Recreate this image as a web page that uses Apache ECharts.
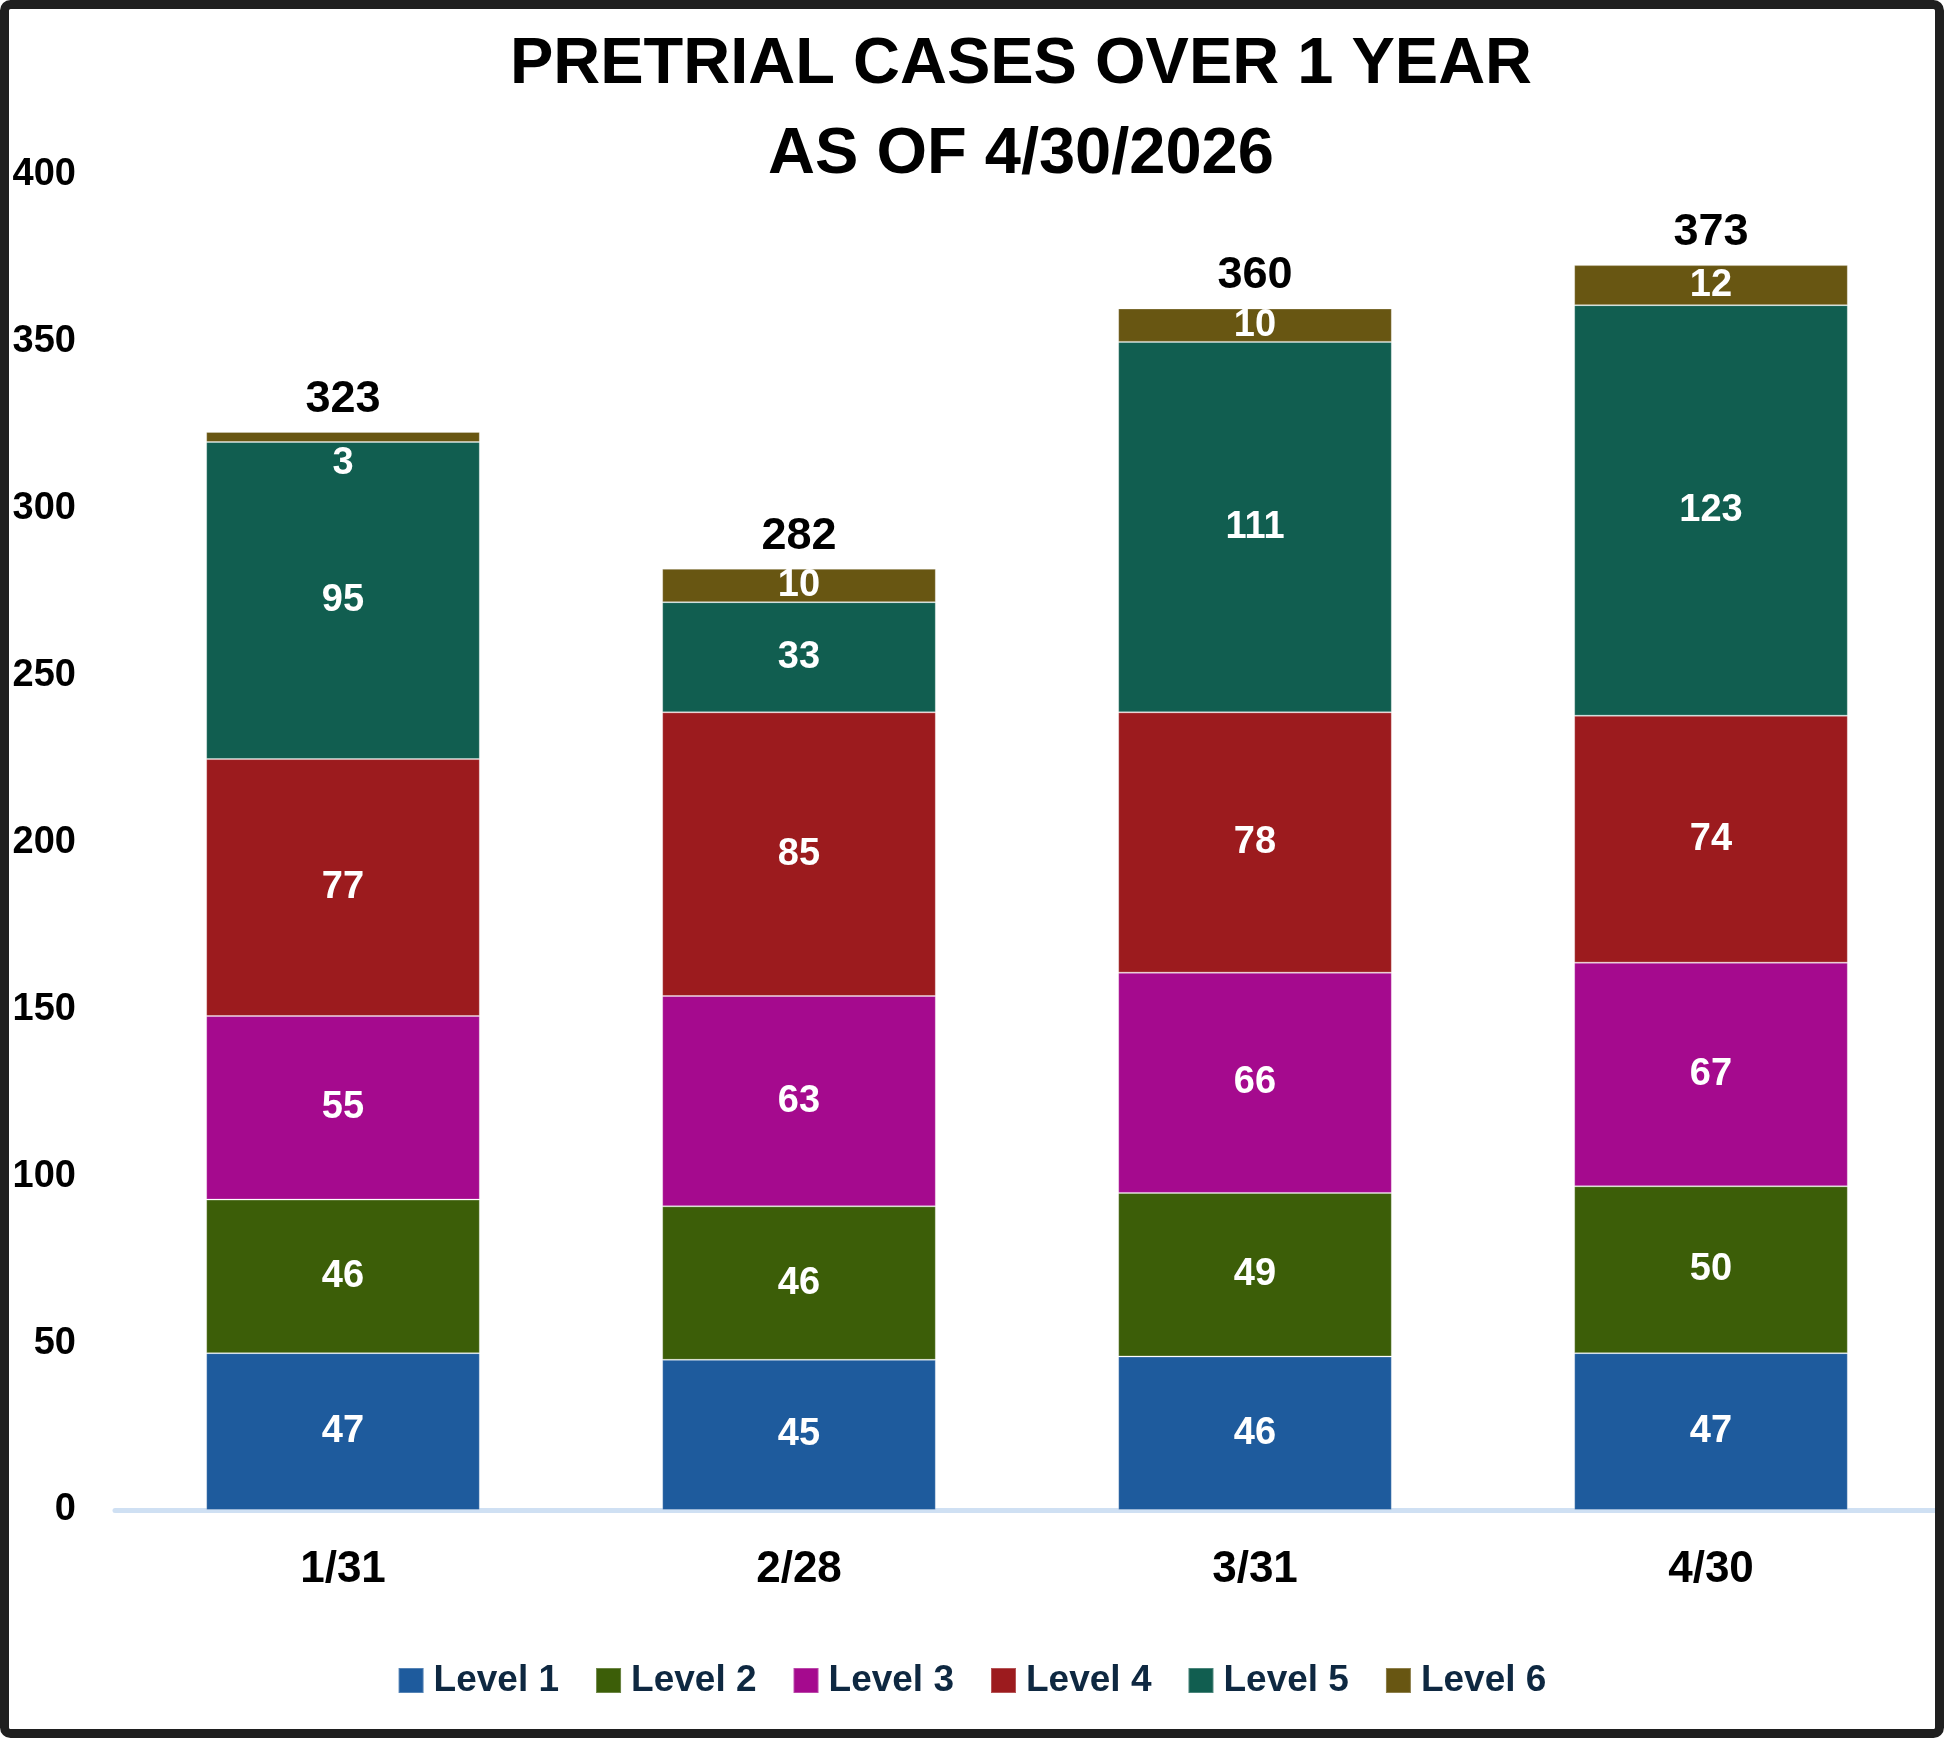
<!DOCTYPE html>
<html>
<head>
<meta charset="utf-8">
<style>
  html, body { margin: 0; padding: 0; background: #ffffff; }
  #chart { width: 1944px; height: 1738px; }
</style>
<script src="https://cdn.jsdelivr.net/npm/echarts@6/dist/echarts.min.js"></script>
</head>
<body>
<div id="chart"></div>
<script>
const categories = ['1/31', '2/28', '3/31', '4/30'];
const seriesNames = ['Level 1', 'Level 2', 'Level 3', 'Level 4', 'Level 5', 'Level 6'];
const level1 = [47, 45, 46, 47];
const level2 = [46, 46, 49, 50];
const level3 = [55, 63, 66, 67];
const level4 = [77, 85, 78, 74];
const level5 = [95, 33, 111, 123];
const level6 = [3, 10, 10, 12];
const yTicks = [0, 50, 100, 150, 200, 250, 300, 350, 400];
const colors = ['#1e5b9d', '#3c5e08', '#a50a8e', '#9c1b1e', '#115e50', '#685612'];

const levels = [level1, level2, level3, level4, level5, level6];
const totals = categories.map((c, i) => levels.reduce((s, arr) => s + arr[i], 0));

const FONT = "'Liberation Sans', Arial, sans-serif";

function levelSeries(name, values, color) {
  return {
    name: name,
    type: 'bar',
    stack: 'cases',
    barWidth: '60%',
    itemStyle: { color: color, borderColor: 'rgba(255,255,255,0.25)', borderWidth: 1 },
    // tiny segments put their label just under the segment, like the original
    data: values.map(v => v < 5
      ? { value: v, label: { position: 'bottom', distance: 3 } }
      : v),
    label: {
      show: true,
      position: 'inside',
      color: '#ffffff',
      fontFamily: FONT,
      fontWeight: 'bold',
      fontSize: 38
    },
    emphasis: { disabled: true }
  };
}

const series = seriesNames.map((n, i) => levelSeries(n, levels[i], colors[i]));

// invisible stacked bar on top that only carries the total label
series.push({
  name: 'Total',
  type: 'bar',
  stack: 'cases',
  silent: true,
  data: totals.map(() => 0),
  itemStyle: { color: 'transparent' },
  label: {
    show: true,
    position: 'top',
    distance: 10,
    color: '#000000',
    fontFamily: FONT,
    fontWeight: 'bold',
    fontSize: 45,
    formatter: p => totals[p.dataIndex]
  }
});

const chart = echarts.init(document.getElementById('chart'), null, { renderer: 'canvas' });

chart.setOption({
  animation: false,
  backgroundColor: '#ffffff',
  color: colors,
  title: {
    text: 'PRETRIAL CASES OVER 1 YEAR\nAS OF 4/30/2026',
    left: 1016,
    top: 15,
    textAlign: 'center',
    textStyle: {
      fontFamily: FONT,
      fontWeight: 'bold',
      fontSize: 65,
      lineHeight: 90,
      color: '#000000'
    }
  },
  legend: {
    data: seriesNames,
    bottom: 34,
    left: 'center',
    itemWidth: 25,
    itemHeight: 25,
    itemGap: 36,
    icon: 'rect',
    textStyle: {
      fontFamily: FONT,
      fontWeight: 'bold',
      fontSize: 37,
      color: '#0e2841',
      padding: [0, 0, 0, 5]
    }
  },
  grid: { left: 115, right: 5, top: 175, bottom: 228, containLabel: false },
  xAxis: {
    type: 'category',
    data: categories,
    axisLine: { show: true, lineStyle: { color: '#cfe0f3', width: 5 } },
    axisTick: { show: false },
    axisLabel: {
      margin: 38,
      color: '#000000',
      fontFamily: FONT,
      fontWeight: 'bold',
      fontSize: 44
    }
  },
  yAxis: {
    type: 'value',
    min: yTicks[0],
    max: yTicks[yTicks.length - 1],
    interval: yTicks[1] - yTicks[0],
    axisLine: { show: false },
    axisTick: { show: false },
    splitLine: { show: false },
    axisLabel: {
      margin: 39,
      color: '#000000',
      fontFamily: FONT,
      fontWeight: 'bold',
      fontSize: 38
    }
  },
  graphic: [{
    type: 'rect',
    silent: true,
    z: 100,
    shape: { x: 4.5, y: 4.5, width: 1935, height: 1729, r: 6 },
    style: { fill: 'none', stroke: '#1f1f1f', lineWidth: 9 }
  }],
  series: series
});
</script>
</body>
</html>
